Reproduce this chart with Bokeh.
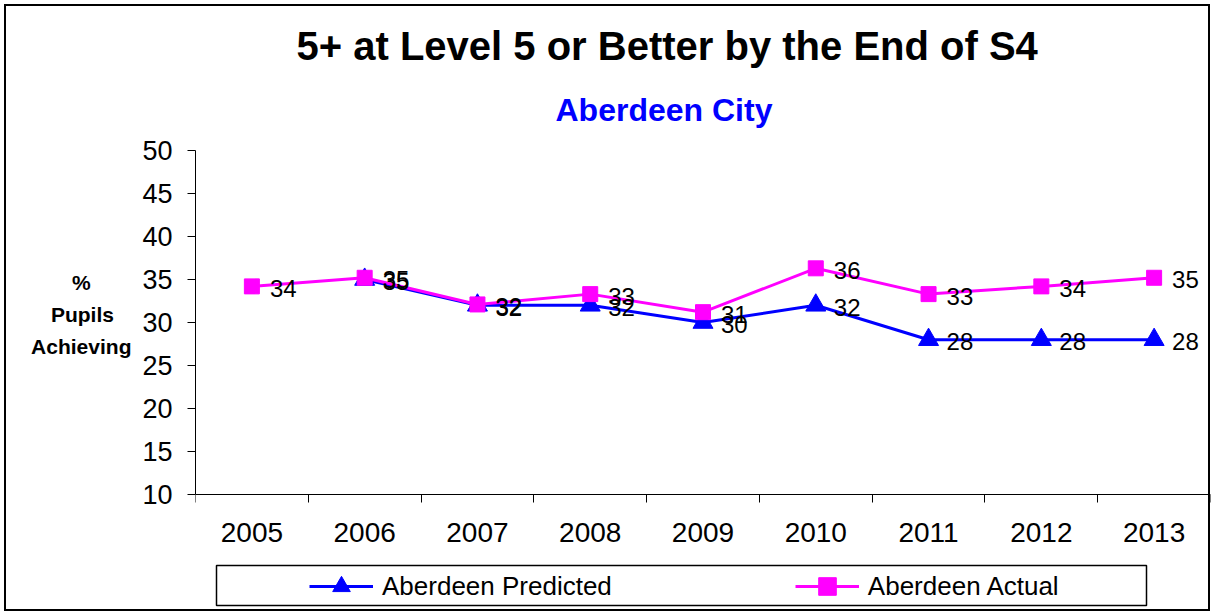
import math
from bokeh.plotting import figure
from bokeh.models import (FixedTicker, Title, Legend, LegendItem, ColumnDataSource,
                          BoxAnnotation)
from bokeh.core.properties import value
from bokeh.embed import file_html
from bokeh.resources import INLINE

# ---- data ----
years = ["2005", "2006", "2007", "2008", "2009", "2010", "2011", "2012", "2013"]
predicted = [math.nan, 35.0, 32.0, 32.0, 30.0, 32.0, 28.0, 28.0, 28.0]
actual = [34.2, 35.2, 32.1, 33.3, 31.2, 36.3, 33.3, 34.2, 35.2]
y_ticks = [10, 15, 20, 25, 30, 35, 40, 45, 50]
title_text = "5+ at Level 5 or Better by the End of S4"
subtitle_text = "Aberdeen City"
ylabel_lines = ["%       ", "Pupils   ", "Achieving"]
series_names = ["Aberdeen Predicted", "Aberdeen Actual"]

FONT = "Liberation Sans"
BLUE = "#0000FF"
MAGENTA = "#FF00FF"

# layout constants (pixels)
W, H = 1214, 615
LEFT, RIGHT, TOP, BOTTOM = 195, 4, 150, 8
PX_PER_UNIT = 344 / 40.0          # 10..50 spans 344 px
Y_MIN, Y_MAX = 10, 50
frame_h = H - TOP - BOTTOM
y_lo = Y_MAX - frame_h / PX_PER_UNIT   # frame extends below the axis (legend room)

xpos = [i + 0.5 for i in range(len(years))]

p = figure(width=W, height=H, x_range=(0, len(years)), y_range=(y_lo, Y_MAX),
           output_backend="svg", toolbar_location=None,
           min_border_left=LEFT, min_border_right=RIGHT, min_border_top=TOP,
           min_border_bottom=BOTTOM)
p.outline_line_color = None
p.xgrid.visible = False
p.ygrid.visible = False
p.background_fill_color = None
p.border_fill_color = None
p.styles = {"box-shadow": "inset 0 0 0 4px white, inset 0 0 0 6px black",
            "background-color": "white"}

# titles
p.title.text = title_text
p.title.text_font = FONT
p.title.text_font_size = "40px"
p.title.text_font_style = "bold"
p.title.text_color = "black"
p.title.align = "left"
p.title.offset = 101
p.title.standoff = 0
p.add_layout(Title(text=subtitle_text, text_font=FONT, text_font_size="32px",
                   text_font_style="bold", text_color=BLUE, align="left",
                   offset=360, standoff=45), "above")

# x axis: drawn at y = 10; labels at category centres, ticks at boundaries
p.xaxis.fixed_location = Y_MIN
p.xaxis.ticker = FixedTicker(ticks=xpos, minor_ticks=list(range(len(years) + 1)))
p.xaxis.major_label_overrides = {xv: yr for xv, yr in zip(xpos, years)}
p.xaxis.major_tick_out = 0
p.xaxis.major_tick_in = 0
p.xaxis.minor_tick_out = 8
p.xaxis.minor_tick_in = 0
p.xaxis.minor_tick_line_color = "black"
p.xaxis.major_label_text_font = FONT
p.xaxis.major_label_text_font_size = "28px"
p.xaxis.major_label_text_color = "black"
p.xaxis.major_label_standoff = 20
p.xaxis.axis_line_color = "black"

p.yaxis.bounds = (Y_MIN, Y_MAX)
p.yaxis.ticker = FixedTicker(ticks=y_ticks, minor_ticks=[])
p.yaxis.major_tick_out = 8
p.yaxis.major_tick_in = 0
p.yaxis.minor_tick_out = 0
p.yaxis.major_label_text_font = FONT
p.yaxis.major_label_text_font_size = "27px"
p.yaxis.major_label_text_color = "black"
p.yaxis.major_label_standoff = 15
p.yaxis.axis_line_color = "black"
# blank trailing lines lift the three-line title up next to the 30-35 band
p.yaxis.axis_label = "\n".join(ylabel_lines + [" "] * 4)
p.yaxis.axis_label_text_font = FONT
p.yaxis.axis_label_text_font_size = "21px"
p.yaxis.axis_label_text_font_style = "bold"
p.yaxis.axis_label_text_color = "black"
p.yaxis.axis_label_text_line_height = 1.4
p.yaxis.axis_label_standoff = 8
p.yaxis.axis_label_orientation = "horizontal"

# series
l1 = p.line(xpos, predicted, line_color=BLUE, line_width=3)
s1 = p.scatter(xpos, predicted, marker="triangle", size=20, fill_color=BLUE,
               line_color=BLUE)
l2 = p.line(xpos, actual, line_color=MAGENTA, line_width=3)
s2 = p.scatter(xpos, actual, marker="square", size=15, fill_color=MAGENTA,
               line_color=MAGENTA)

# data labels
for vals in (predicted, actual):
    pts = [(xv, v) for xv, v in zip(xpos, vals) if not math.isnan(v)]
    src = ColumnDataSource(dict(x=[a for a, _ in pts], y=[b for _, b in pts],
                                t=["%.0f" % b for _, b in pts]))
    p.text(x="x", y="y", text="t", source=src, x_offset=18, y_offset=2,
           text_align="left", text_baseline="middle",
           text_font=value(FONT), text_font_size="24px", text_color="black")

# legend (inside the extended frame, below the x axis)
legend = Legend(items=[LegendItem(label=series_names[0], renderers=[l1, s1]),
                       LegendItem(label=series_names[1], renderers=[l2, s2])],
                orientation="horizontal", location=(114, -1), padding=0,
                spacing=183, glyph_width=64, glyph_height=44, label_height=30,
                label_standoff=9, border_line_color=None,
                background_fill_alpha=0, label_text_color="black",
                label_text_font=FONT, label_text_font_size="26px", margin=0)
p.add_layout(legend)

# legend frame
def sx_to_x(px):
    return (px - LEFT) * len(years) / (W - LEFT - RIGHT)

def sy_to_y(py):
    return Y_MAX - (py - TOP) / PX_PER_UNIT

p.add_layout(BoxAnnotation(left=sx_to_x(216), right=sx_to_x(1146),
                           top=sy_to_y(565), bottom=sy_to_y(605),
                           fill_alpha=0, line_color="black", line_alpha=1,
                           line_width=1.5))

open("out.html", "w").write(file_html(p, INLINE))
